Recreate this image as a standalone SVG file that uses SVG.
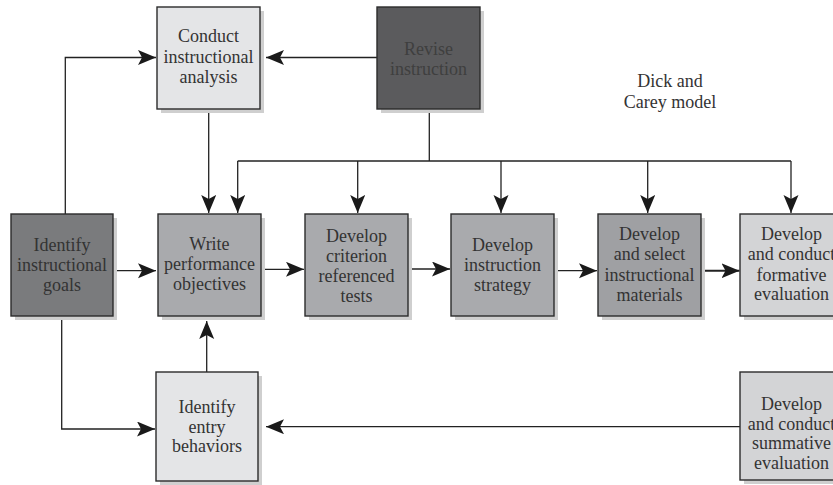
<svg xmlns="http://www.w3.org/2000/svg" width="833" height="485" viewBox="0 0 833 485">
<style>
.box{stroke:#2b2b2b;stroke-width:1.4}
.sh{fill:#cfcfcf}
.t{font-family:"Liberation Serif","Times New Roman",serif;font-size:18px;fill:#333;text-anchor:middle}
.c{fill:none;stroke:#222;stroke-width:1.3}
</style>
<defs>
<marker id="ah" markerUnits="userSpaceOnUse" markerWidth="19" markerHeight="16" refX="18" refY="7.5" orient="auto">
<path d="M0,0 L18,7.5 L0,15 L4,7.5 z" fill="#1a1a1a"/>
</marker>
</defs>
<rect width="833" height="485" fill="#fff"/>
<g id="connectors">
<path class="c" d="M377,57.5 H266" marker-end="url(#ah)"/>
<path class="c" d="M65.3,214 V57.5 H156" marker-end="url(#ah)"/>
<path class="c" d="M208.7,109 V213" marker-end="url(#ah)"/>
<path class="c" d="M429.3,109 V161"/>
<path class="c" d="M237.7,161 H791"/>
<path class="c" d="M237.7,161 V213" marker-end="url(#ah)"/>
<path class="c" d="M357.7,161 V213" marker-end="url(#ah)"/>
<path class="c" d="M501,161 V213" marker-end="url(#ah)"/>
<path class="c" d="M647.7,161 V213" marker-end="url(#ah)"/>
<path class="c" d="M791,161 V213" marker-end="url(#ah)"/>
<path class="c" d="M113,270.7 H156" marker-end="url(#ah)"/>
<path class="c" d="M261,269.3 H304" marker-end="url(#ah)"/>
<path class="c" d="M408,269 H450" marker-end="url(#ah)"/>
<path class="c" d="M554,270.7 H597" marker-end="url(#ah)"/>
<path class="c" d="M701,270.7 H739.5" style="stroke-width:2" marker-end="url(#ah)"/>
<path class="c" d="M61.7,316 V429 H155" marker-end="url(#ah)"/>
<path class="c" d="M206.7,372 V321" marker-end="url(#ah)"/>
<path class="c" d="M740,426.7 H266" marker-end="url(#ah)"/>
</g>
<g id="conduct">
<rect class="sh" x="161" y="11" width="103" height="102"/>
<rect class="box" x="157" y="7" width="103" height="102" fill="#e4e5e7"/>
<text class="t" x="208.5" y="42">Conduct</text>
<text class="t" x="208.5" y="62.5">instructional</text>
<text class="t" x="208.5" y="83">analysis</text>
</g>
<g id="revise">
<rect class="sh" x="381" y="11" width="103" height="102"/>
<rect class="box" x="377" y="7" width="103" height="102" fill="#5b5b5d"/>
<text class="t" x="428.5" y="55" style="fill:#3f3f3f">Revise</text>
<text class="t" x="428.5" y="74.5" style="fill:#3f3f3f">instruction</text>
</g>
<g id="title">
<text class="t" x="670" y="87">Dick and</text>
<text class="t" x="670" y="108">Carey model</text>
</g>
<g id="goals">
<rect class="sh" x="15" y="218" width="102" height="102"/>
<rect class="box" x="11" y="214" width="102" height="102" fill="#7a7b7d"/>
<text class="t" x="62" y="251">Identify</text>
<text class="t" x="62" y="271">instructional</text>
<text class="t" x="62" y="291">goals</text>
</g>
<g id="write">
<rect class="sh" x="162" y="218" width="103" height="102"/>
<rect class="box" x="158" y="214" width="103" height="102" fill="#a9aaad"/>
<text class="t" x="209.5" y="250">Write</text>
<text class="t" x="209.5" y="270">performance</text>
<text class="t" x="209.5" y="290">objectives</text>
</g>
<g id="criterion">
<rect class="sh" x="309" y="218" width="103" height="102"/>
<rect class="box" x="305" y="214" width="103" height="102" fill="#a9aaad"/>
<text class="t" x="356.5" y="242">Develop</text>
<text class="t" x="356.5" y="262">criterion</text>
<text class="t" x="356.5" y="282">referenced</text>
<text class="t" x="356.5" y="302">tests</text>
</g>
<g id="strategy">
<rect class="sh" x="455" y="218" width="103" height="102"/>
<rect class="box" x="451" y="214" width="103" height="102" fill="#a9aaad"/>
<text class="t" x="502.5" y="251">Develop</text>
<text class="t" x="502.5" y="271">instruction</text>
<text class="t" x="502.5" y="291">strategy</text>
</g>
<g id="materials">
<rect class="sh" x="602" y="218" width="103" height="102"/>
<rect class="box" x="598" y="214" width="103" height="102" fill="#9fa0a3"/>
<text class="t" x="649.5" y="240">Develop</text>
<text class="t" x="649.5" y="260">and select</text>
<text class="t" x="649.5" y="280.5">instructional</text>
<text class="t" x="649.5" y="300.5">materials</text>
</g>
<g id="formative">
<rect class="sh" x="744" y="218" width="103" height="102"/>
<rect class="box" x="740" y="214" width="103" height="102" fill="#d3d4d6"/>
<text class="t" x="791.5" y="240">Develop</text>
<text class="t" x="791.5" y="260">and conduct</text>
<text class="t" x="791.5" y="281">formative</text>
<text class="t" x="791.5" y="300">evaluation</text>
</g>
<g id="entry">
<rect class="sh" x="160" y="376" width="102" height="109"/>
<rect class="box" x="156" y="372" width="102" height="109" fill="#e4e5e7"/>
<text class="t" x="207" y="413">Identify</text>
<text class="t" x="207" y="432.5">entry</text>
<text class="t" x="207" y="452">behaviors</text>
</g>
<g id="summative">
<rect class="sh" x="744" y="376" width="103" height="108"/>
<rect class="box" x="740" y="372" width="103" height="108" fill="#d3d4d6"/>
<text class="t" x="791.5" y="410">Develop</text>
<text class="t" x="791.5" y="429.5">and conduct</text>
<text class="t" x="791.5" y="449">summative</text>
<text class="t" x="791.5" y="468.5">evaluation</text>
</g>
</svg>
